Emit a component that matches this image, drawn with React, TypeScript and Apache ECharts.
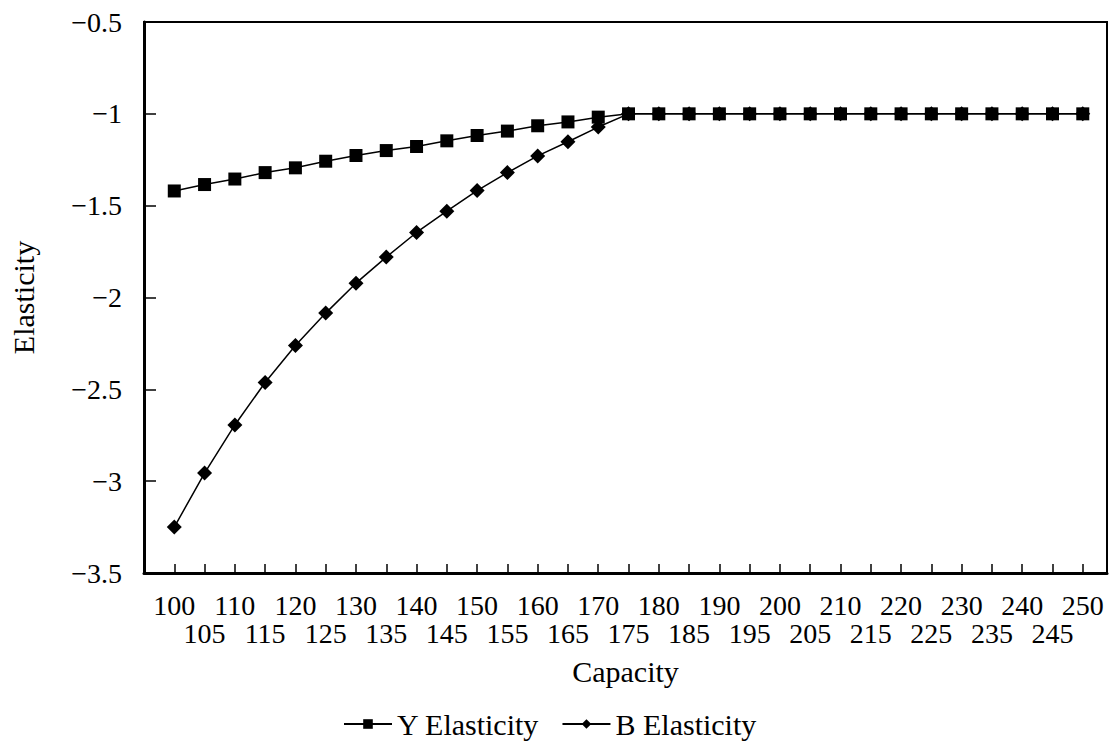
import React, { useEffect, useRef } from "react";
import * as echarts from "echarts";

const capacity = [100, 105, 110, 115, 120, 125, 130, 135, 140, 145, 150, 155, 160, 165, 170, 175, 180, 185, 190, 195, 200, 205, 210, 215, 220, 225, 230, 235, 240, 245, 250];
const yElasticity = [-1.42, -1.385, -1.355, -1.32, -1.294, -1.258, -1.227, -1.2, -1.178, -1.147, -1.118, -1.094, -1.065, -1.044, -1.018, -1, -1, -1, -1, -1, -1, -1, -1, -1, -1, -1, -1, -1, -1, -1, -1];
const bElasticity = [-3.25, -2.956, -2.694, -2.463, -2.261, -2.085, -1.922, -1.78, -1.646, -1.53, -1.418, -1.32, -1.229, -1.152, -1.072, -1, -1, -1, -1, -1, -1, -1, -1, -1, -1, -1, -1, -1, -1, -1, -1];
const yTicks = [-3.5, -3, -2.5, -2, -1.5, -1, -0.5];
const seriesNames = ["Y Elasticity", "B Elasticity"];

const FONT = "'Liberation Serif', 'Times New Roman', serif";

export default function App() {
  const ref = useRef<HTMLDivElement>(null);
  useEffect(() => {
    if (!ref.current) return;
    const chart = echarts.init(ref.current, undefined, { renderer: "svg" });
    const fmtNum = (v: number) => (v < 0 ? "\u2212" : "") + String(Math.abs(v));
    chart.setOption({
      animation: false,
      backgroundColor: "#ffffff",
      grid: {
        left: 142,
        right: 5,
        top: 22,
        bottom: 173,
        show: true,
        borderColor: "#000",
        borderWidth: 2,
        backgroundColor: "transparent",
      },
      legend: {
        left: 338,
        top: 704,
        itemWidth: 48,
        itemHeight: 12,
        itemGap: 22,
        data: seriesNames,
        textStyle: { fontFamily: FONT, fontSize: 30, color: "#000" },
      },
      xAxis: {
        type: "value",
        min: 95,
        max: 254,
        interval: 5,
        name: "Capacity",
        nameLocation: "middle",
        nameGap: 83,
        nameTextStyle: { fontFamily: FONT, fontSize: 30, color: "#000" },
        axisLine: { show: true, onZero: false, lineStyle: { color: "#000", width: 3 } },
        axisTick: { show: true, inside: true, length: 9, lineStyle: { color: "#000", width: 1.5 } },
        splitLine: { show: false },
        axisLabel: {
          fontFamily: FONT,
          fontSize: 28,
          color: "#000",
          margin: 18,
          lineHeight: 28,
          formatter: (v: number) => {
            const i = capacity.indexOf(v);
            if (i < 0) return "";
            return i % 2 === 0 ? String(v) : "\n" + v;
          },
        },
      },
      yAxis: {
        type: "value",
        min: yTicks[0],
        max: yTicks[yTicks.length - 1],
        interval: 0.5,
        name: "Elasticity",
        nameLocation: "middle",
        nameRotate: 90,
        nameGap: 106,
        nameTextStyle: { fontFamily: FONT, fontSize: 30, color: "#000" },
        axisLine: { show: true, onZero: false, lineStyle: { color: "#000", width: 3 } },
        axisTick: { show: true, inside: true, length: 12, lineStyle: { color: "#000", width: 1.5 } },
        splitLine: { show: false },
        axisLabel: {
          fontFamily: FONT,
          fontSize: 28,
          color: "#000",
          margin: 22,
          formatter: (v: number) => fmtNum(v),
        },
      },
      series: [
        {
          name: seriesNames[1],
          type: "line",
          data: capacity.map((c, i) => [c, bElasticity[i]]),
          symbol: "diamond",
          symbolSize: 15,
          lineStyle: { color: "#000", width: 1.5 },
          itemStyle: { color: "#000" },
          z: 2,
        },
        {
          name: seriesNames[0],
          type: "line",
          data: capacity.map((c, i) => [c, yElasticity[i]]),
          symbol: "rect",
          symbolSize: 13,
          lineStyle: { color: "#000", width: 1.5 },
          itemStyle: { color: "#000" },
          z: 3,
        },
      ],
    });
    return () => chart.dispose();
  }, []);
  return (
    <div
      ref={ref}
      style={{ position: "fixed", left: 0, top: 0, width: 1112, height: 746, background: "#fff" }}
    />
  );
}
